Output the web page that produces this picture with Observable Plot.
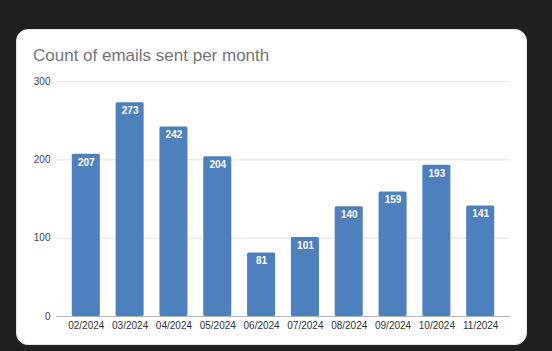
<!DOCTYPE html>
<html>
<head>
<meta charset="utf-8">
<script src="https://cdn.jsdelivr.net/npm/d3@7"></script>
<script src="https://cdn.jsdelivr.net/npm/@observablehq/plot@0.6"></script>
<style>
  html, body { margin: 0; padding: 0; background: #1f1f1f; width: 552px; height: 351px; overflow: hidden; }
  #wrap { position: relative; width: 552px; height: 351px; }
  #card { position: absolute; left: 16px; top: 29px; width: 511px; height: 316px; background: #fff; border: 1px solid #e6e6e6; border-radius: 12px; box-sizing: border-box; }
  #title { position: absolute; left: 33px; top: 46px; font: 17px "Liberation Sans", Arial, sans-serif; color: #757575; white-space: nowrap; }
  #chart { position: absolute; left: 0; top: 0; }
  #chart svg { background: transparent !important; }
</style>
</head>
<body>
<div id="wrap">
  <div id="card"></div>
  <div id="title">Count of emails sent per month</div>
  <div id="chart"></div>
</div>
<script>
const months = ["02/2024","03/2024","04/2024","05/2024","06/2024","07/2024","08/2024","09/2024","10/2024","11/2024"];
const counts = [207, 273, 242, 204, 81, 101, 140, 159, 193, 141];
const yTicks = [0, 100, 200, 300];

const data = months.map((m, i) => ({month: m, count: counts[i]}));

const plot = Plot.plot({
  width: 552,
  height: 351,
  marginTop: 81,
  marginBottom: 35,
  marginLeft: 56,
  marginRight: 42,
  style: {background: "transparent", fontFamily: "'Liberation Sans', Arial, sans-serif", fontSize: "10px", color: "#444"},
  x: {domain: months, padding: 0.36, round: false, label: null},
  y: {domain: [0, 300], label: null},
  marks: [
    Plot.ruleY(yTicks.filter(d => d > 0), {stroke: "#e3e3e3", strokeWidth: 1}),
    Plot.axisY({ticks: yTicks, tickSize: 0, tickPadding: 6, tickFormat: d => String(d), fill: "#444", fontSize: 10}),
    Plot.axisX({tickSize: 0, tickPadding: 5, fill: "#333", fontSize: 10}),
    Plot.barY(data, {x: "month", y: "count", fill: "#4e80be", rx: 1.5}),
    Plot.ruleY([0], {stroke: "#b5b5b5", strokeWidth: 1}),
    Plot.text(data, {x: "month", y: "count", text: d => String(d.count), dy: 8, lineAnchor: "middle", fill: "#fff", fontWeight: "bold", fontSize: 10})
  ]
});
document.getElementById("chart").appendChild(plot);
</script>
</body>
</html>
